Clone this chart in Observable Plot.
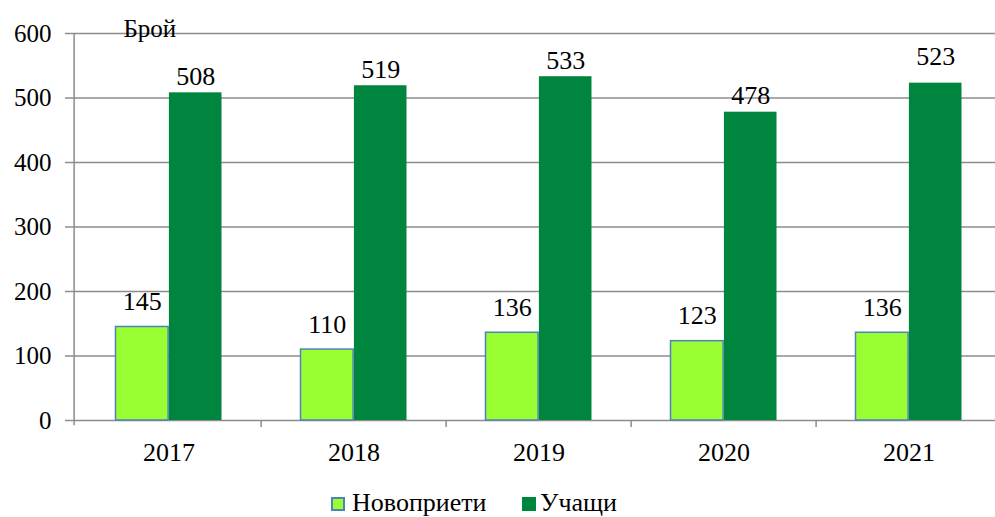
<!DOCTYPE html>
<html><head><meta charset="utf-8">
<script src="https://cdn.jsdelivr.net/npm/d3@7"></script>
<script src="https://cdn.jsdelivr.net/npm/@observablehq/plot@0.6"></script>
<style>
body{margin:0;background:#fff;width:995px;height:517px;overflow:hidden;position:relative;font-family:'Liberation Serif','Tinos','Times New Roman','DejaVu Serif',serif;}
#chart svg{overflow:visible;}
#chart svg text{font-family:'Liberation Serif','Tinos','Times New Roman','DejaVu Serif',serif !important;}
.lg{position:absolute;font-size:26px;line-height:1;color:#000;white-space:nowrap;font-family:'Liberation Serif','Tinos','Times New Roman','DejaVu Serif',serif;}
.sw{position:absolute;width:14px;height:14px;box-sizing:border-box;}
</style></head><body><div id="chart"></div><div id="legend"></div>
<script>
const years = ["2017","2018","2019","2020","2021"];
const novopriet = [145,110,136,123,136];
const uchashti = [508,519,533,478,523];
const seriesNames = ["Новоприети","Учащи"];
const yTicks = [0,100,200,300,400,500,600];
const yLabel = "Брой";
const colors = ["#99FF33","#00853E"];
const borderColor = "#4F81BD";
const FONT = "Liberation Serif, Tinos, Times New Roman, DejaVu Serif, serif";

const data = years.flatMap((y,i)=>[
  {year:y, series:seriesNames[0], value:novopriet[i]},
  {year:y, series:seriesNames[1], value:uchashti[i]}
]);
const s0 = data.filter(d=>d.series===seriesNames[0]);
const s1 = data.filter(d=>d.series===seriesNames[1]);

const x0 = 74, x1 = 1003, step = (x1-x0)/years.length, half = step/2, gap = 39.5;
const barW = half - gap;

const chart = Plot.plot({
  width: 995, height: 475,
  marginLeft: 72, marginRight: 0, marginTop: 33, marginBottom: 55,
  style: {fontFamily: FONT, background: "#fff", color:"#000"},
  x: {type: "band", domain: years, range: [x0, x1], padding: 0, axis: null},
  y: {domain: [0, 600], axis: null},
  marks: [
    Plot.ruleY(yTicks, {stroke: "#8c8c8c", strokeWidth: 1.5}),
    Plot.axisY({ticks: yTicks, tickSize: 7, tickPadding: 14, fontSize: 25, fontFamily: FONT, stroke: "#8c8c8c", strokeWidth: 1.5, label: null, tickFormat: d=>String(d)}),
    Plot.ruleX([years[0]], {x: d=>d, dx: -half - 2, y1: -8, y2: 600, stroke: "#8c8c8c", strokeWidth: 1.5}),
    Plot.ruleX(years.slice(1), {x: d=>d, dx: -half, y1: 0, y2: -11, stroke: "#8c8c8c", strokeWidth: 1.5}),
    Plot.axisX({tickSize: 0, tickPadding: 22, fontSize: 26, fontFamily: FONT, label: null}),
    Plot.barY(s0, {x: "year", y: "value", fill: colors[0], stroke: borderColor, strokeWidth: 1.5, insetLeft: gap, insetRight: half}),
    Plot.barY(s1, {x: "year", y: "value", fill: colors[1], insetLeft: half, insetRight: gap}),
    Plot.text(s0, {x: "year", y: "value", text: d=>String(d.value), dx: -barW/2, dy: -17, lineAnchor: "bottom", fontSize: 26, fontFamily: FONT}),
    Plot.text(s1.filter(d=>d.year!=="2021"), {x: "year", y: "value", text: d=>String(d.value), dx: barW/2, dy: -8, lineAnchor: "bottom", fontSize: 26, fontFamily: FONT}),
    Plot.text(s1.filter(d=>d.year==="2021"), {x: "year", y: "value", text: d=>String(d.value), dx: barW/2, dy: -18, lineAnchor: "bottom", fontSize: 26, fontFamily: FONT}),
    Plot.text([yLabel], {frameAnchor: "top-left", dx: 51, dy: 3, textAnchor: "start", lineAnchor: "bottom", fontSize: 25, fontFamily: FONT})
  ]
});
document.getElementById("chart").appendChild(chart);

const legend = document.getElementById("legend");
const items = [
  {name: seriesNames[0], fill: colors[0], border: borderColor, sx: 331, tx: 352},
  {name: seriesNames[1], fill: colors[1], border: colors[1], sx: 522, tx: 540}
];
for (const it of items) {
  const sw = document.createElement("div");
  sw.className = "sw";
  sw.style.left = it.sx + "px"; sw.style.top = "497px";
  sw.style.background = it.fill; sw.style.border = "2px solid " + it.border;
  legend.appendChild(sw);
  const t = document.createElement("div");
  t.className = "lg"; t.textContent = it.name;
  t.style.left = it.tx + "px"; t.style.top = "490px";
  legend.appendChild(t);
}
</script></body></html>
